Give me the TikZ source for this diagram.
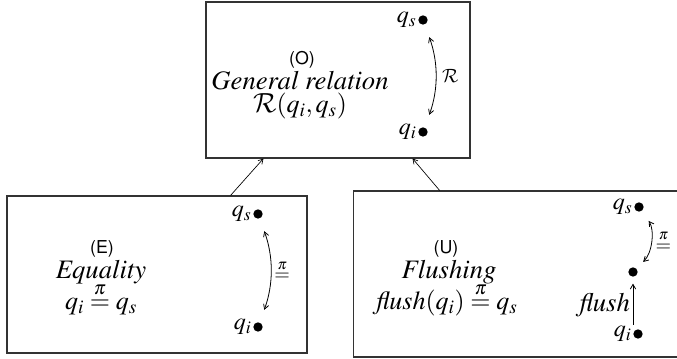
\documentclass[tikz,border=0pt]{standalone}
\usepackage[T1]{fontenc}
\usepackage{mathptmx}
\usepackage[scaled=0.92]{helvet}
\usetikzlibrary{positioning, arrows.meta}
\DeclareMathAlphabet{\mathcal}{OMS}{cmsy}{m}{n}
\newcommand{\pieq}{\stackrel{\pi}{=}}

\begin{document}
\begin{tikzpicture}[
    x=0.75pt, y=0.75pt,
    >={Straight Barb[length=3.5pt,width=4pt]},
    panel/.style={
      rectangle, draw=black!80, line width=0.8pt,
      inner sep=0pt,
    },
    tag/.style={font=\fontsize{14.5}{17}\sffamily, inner sep=0pt},
    title/.style={font=\fontsize{20}{22}\itshape, inner sep=0pt},
    formula/.style={font=\fontsize{19.5}{22}\selectfont, inner sep=0pt},
    dot/.style={circle, fill=black, inner sep=0pt, minimum size=7pt},
    ptlabel/.style={font=\fontsize{18}{21}\selectfont, inner sep=1pt},
    rellabel/.style={font=\fontsize{15}{18}\selectfont, inner sep=1pt},
    link/.style={->, line width=0.5pt},
    pair/.style={<->, line width=0.6pt, shorten <=10pt, shorten >=10pt},
  ]
  \useasboundingbox (0,0) rectangle (677,359);

  % boxes
  \node[panel, minimum width=198pt, minimum height=117pt] (o-box) at (338,279) {};
  \node[panel, minimum width=225pt, minimum height=117.75pt] (e-box) at (157,84.5) {};
  \node[panel, minimum width=260pt, minimum height=124.5pt] (u-box) at (526.5,85) {};

  % general relation
  \node[tag] (o-tag) at (302,299) {(O)};
  \node[title] (o-title) at (300,278) {General relation};
  \node[formula] (o-form) at (300,253) {$\mathcal{R}(q_i, q_s)$};
  \node[dot] (o-s) at (423,339) {};
  \node[ptlabel, left=0pt of o-s] (o-s-l) {$q_s$};
  \node[dot] (o-i) at (423,227) {};
  \node[ptlabel, left=0pt of o-i] (o-i-l) {$q_i$};
  \draw[pair] (o-s) to[bend left=20] node[rellabel, right=4pt] (o-rel) {$\mathcal{R}$} (o-i);

  % equality
  \node[tag] (e-tag) at (102,110) {(E)};
  \node[title] (e-title) at (101,87) {Equality};
  \node[formula] (e-form) at (101,60) {$q_i \pieq q_s$};
  \node[dot] (e-s) at (258,145) {};
  \node[ptlabel, left=0pt of e-s] (e-s-l) {$q_s$};
  \node[dot] (e-i) at (258,32) {};
  \node[ptlabel, left=0pt of e-i] (e-i-l) {$q_i$};
  \draw[pair] (e-s) to[bend left=20] node[rellabel, right=2pt] (e-rel) {$\pieq$} (e-i);

  % flushing
  \node[tag] (u-tag) at (446,110) {(U)};
  \node[title] (u-title) at (449,87) {Flushing};
  \node[formula] (u-form) at (447,60) {$\mathit{flush}(q_i) \pieq q_s$};
  \node[dot] (u-s) at (639,152) {};
  \node[ptlabel, left=0pt of u-s] (u-s-l) {$q_s$};
  \node[dot] (u-m) at (633,87) {};
  \node[dot] (u-i) at (638,25) {};
  \node[ptlabel, left=0pt of u-i] (u-i-l) {$q_i$};
  \draw[pair, shorten <=9pt, shorten >=7pt] (u-s) to[bend left=40] node[rellabel, right=3pt] (u-rel) {$\pieq$} (u-m);
  \draw[link, line width=0.6pt, shorten <=7pt, shorten >=5pt] (u-m |- u-i) -- (u-m)
    node[pos=0.5, title, left=2pt] (u-flush) {flush};

  % refinement links
  \draw[link] ([xshift=-57.75pt]e-box.north east) -- ([xshift=43.5pt]o-box.south west);
  \draw[link] ([xshift=65.25pt]u-box.north west) -- ([xshift=-43.5pt]o-box.south east);
\end{tikzpicture}
\end{document}
